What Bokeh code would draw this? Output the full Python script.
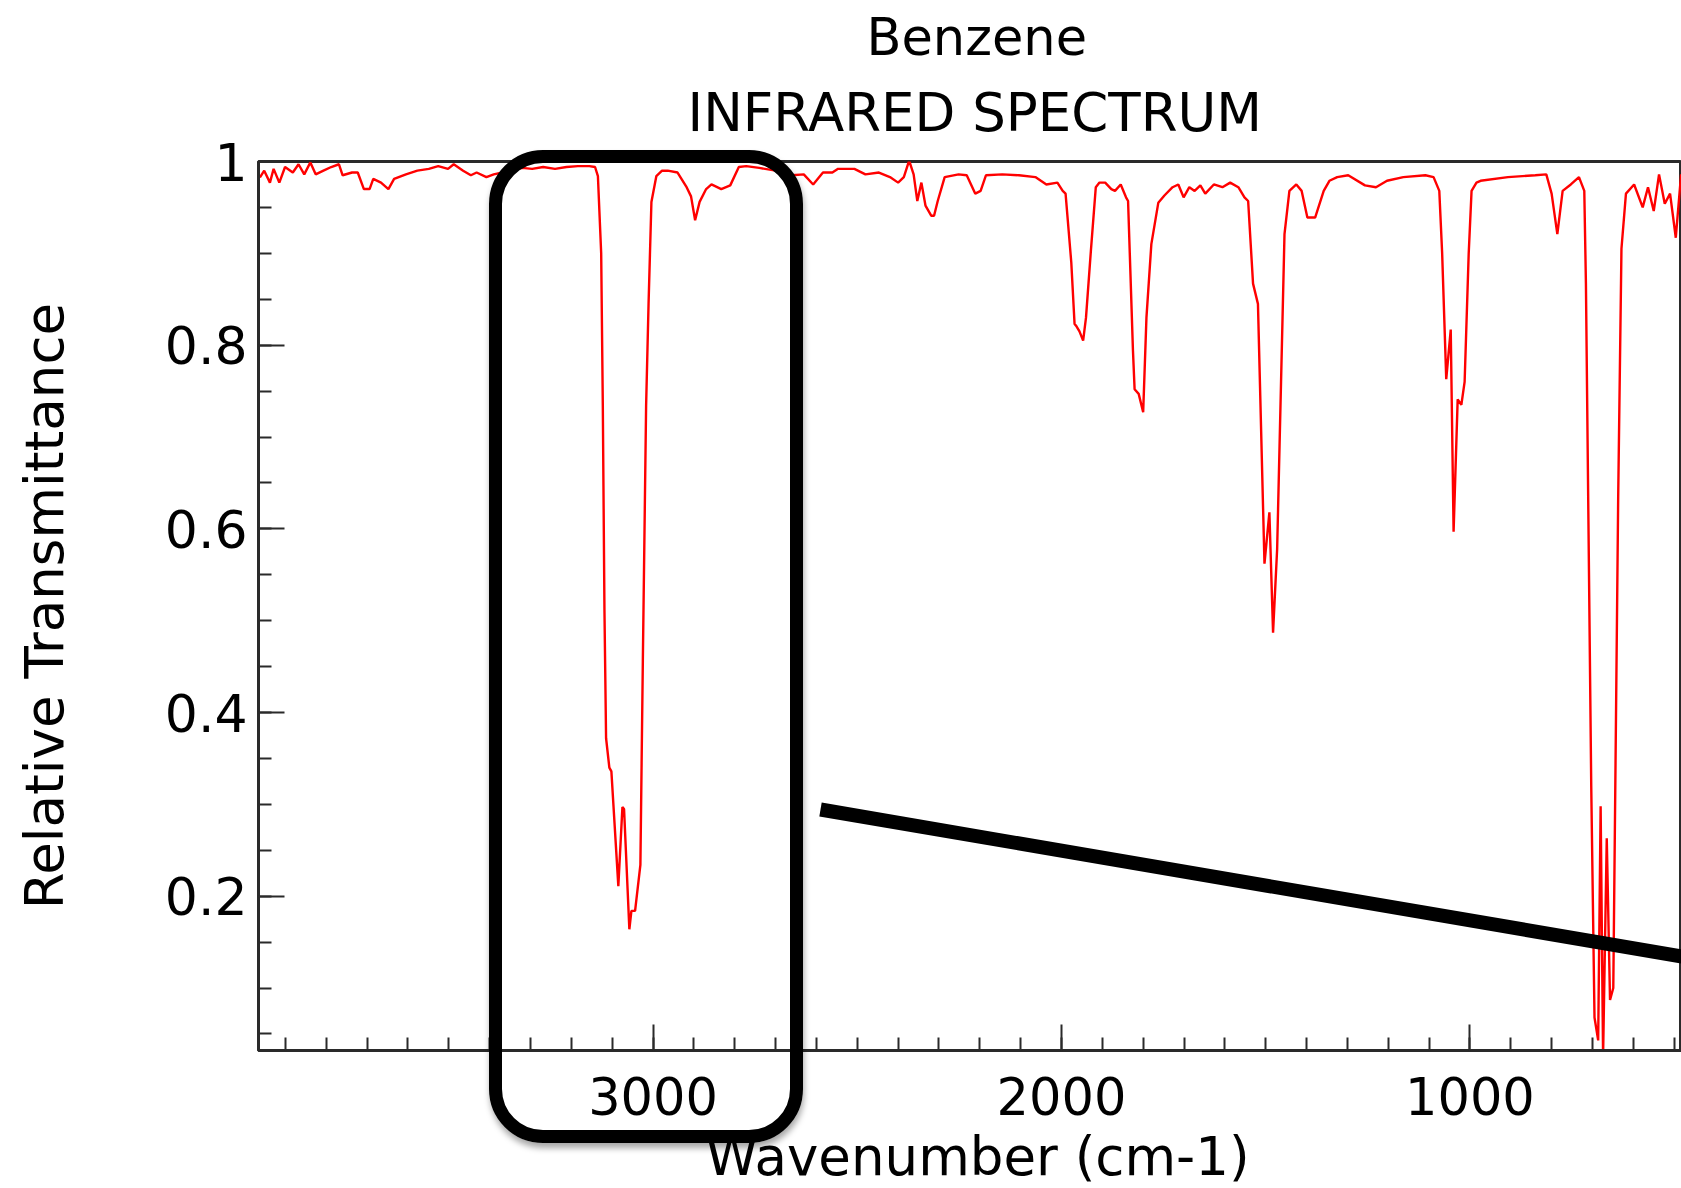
from bokeh.plotting import figure
from bokeh.models import (Range1d, SingleIntervalTicker, CustomJSTickFormatter,
                          Title, ColumnDataSource, Div)
from bokeh.layouts import column
from bokeh.embed import file_html
from bokeh.resources import INLINE

# ---- data (wavenumber in cm-1, relative transmittance)
wavenumber = [
    3966, 3962, 3952, 3938, 3929, 3915, 3901, 3882, 3868, 3854, 3839, 3826, 3807,
    3788, 3769, 3760, 3737, 3723, 3708, 3694, 3685, 3666, 3648, 3634, 3605, 3577,
    3549, 3526, 3502, 3488, 3465, 3446, 3432, 3408, 3390, 3350, 3320, 3296, 3269,
    3240, 3212, 3184, 3156, 3142, 3135, 3127, 3123, 3119, 3115, 3107, 3102, 3085,
    3075, 3071, 3058, 3053, 3044, 3031, 3025, 3017, 3011, 3004, 2992, 2978, 2964,
    2940, 2919, 2907, 2897, 2886, 2870, 2857, 2833, 2811, 2790, 2772, 2740, 2700,
    2660, 2631, 2608, 2584, 2561, 2547, 2507, 2480, 2447, 2420, 2400, 2386, 2373,
    2362, 2353, 2343, 2333, 2319, 2312, 2303, 2286, 2252, 2232, 2211, 2198, 2185,
    2145, 2104, 2064, 2037, 2010, 1997, 1990, 1976, 1968, 1964, 1956, 1947, 1940,
    1928, 1916, 1907, 1893, 1878, 1869, 1855, 1842, 1837, 1825, 1821, 1811, 1800,
    1792, 1780, 1763, 1748, 1728, 1714, 1701, 1687, 1674, 1660, 1648, 1627, 1606,
    1587, 1567, 1552, 1543, 1531, 1519, 1503, 1491, 1482, 1472, 1454, 1442, 1425,
    1412, 1398, 1379, 1358, 1344, 1325, 1298, 1257, 1230, 1203, 1163, 1109, 1089,
    1075, 1068, 1058, 1047, 1040, 1030, 1021, 1013, 1003, 996, 984, 974, 907, 840,
    813, 800, 786, 773, 753, 733, 720, 716, 703, 695, 686, 680, 674, 665, 657, 649,
    637, 629, 618, 598, 577, 564, 550, 537, 523, 510, 496, 483, 470,
]
transmittance = [
    0.985, 0.983, 0.990, 0.977, 0.992, 0.977, 0.994, 0.988, 0.997, 0.986, 0.999, 0.986, 0.990,
    0.994, 0.997, 0.985, 0.988, 0.988, 0.970, 0.970, 0.981, 0.977, 0.970, 0.981, 0.986, 0.990,
    0.992, 0.995, 0.992, 0.997, 0.990, 0.985, 0.988, 0.983, 0.986, 0.990, 0.993, 0.992, 0.994,
    0.992, 0.994, 0.995, 0.995, 0.994, 0.984, 0.900, 0.734, 0.512, 0.372, 0.340, 0.336, 0.211,
    0.297, 0.295, 0.164, 0.184, 0.184, 0.234, 0.456, 0.734, 0.845, 0.956, 0.984, 0.990, 0.990,
    0.988, 0.973, 0.962, 0.936, 0.956, 0.970, 0.975, 0.970, 0.974, 0.994, 0.995, 0.993, 0.990,
    0.985, 0.986, 0.975, 0.988, 0.988, 0.992, 0.992, 0.986, 0.988, 0.983, 0.977, 0.983, 1.001,
    0.986, 0.957, 0.977, 0.952, 0.941, 0.941, 0.957, 0.983, 0.986, 0.985, 0.965, 0.968, 0.985,
    0.986, 0.985, 0.983, 0.975, 0.977, 0.968, 0.965, 0.890, 0.823, 0.821, 0.815, 0.805, 0.830,
    0.903, 0.972, 0.977, 0.977, 0.970, 0.968, 0.975, 0.961, 0.957, 0.794, 0.752, 0.747, 0.727,
    0.830, 0.910, 0.955, 0.963, 0.972, 0.975, 0.961, 0.972, 0.968, 0.974, 0.965, 0.975, 0.972,
    0.977, 0.972, 0.961, 0.957, 0.867, 0.845, 0.562, 0.618, 0.487, 0.578, 0.921, 0.968, 0.975,
    0.968, 0.939, 0.939, 0.968, 0.979, 0.983, 0.985, 0.974, 0.972, 0.979, 0.983, 0.985, 0.983,
    0.968, 0.900, 0.763, 0.817, 0.597, 0.741, 0.735, 0.760, 0.900, 0.968, 0.977, 0.979, 0.983, 0.985,
    0.986, 0.965, 0.921, 0.968, 0.975, 0.983, 0.968, 0.867, 0.320, 0.068, 0.043, 0.298, 0.025, 0.263, 0.087, 0.100,
    0.635, 0.905, 0.965, 0.975, 0.950, 0.972, 0.946, 0.986, 0.954, 0.965, 0.917, 0.986, 0.950,
]

x_start, x_end = 3966, 482
y_start, y_end = 0.032, 1.0

# highlight annotations (a rounded box around the C-H stretch and a pointer line)
box_left, box_right, box_top, box_bottom = 3385, 2647, 1.005, -0.062
pointer_x = [2590, 400]
pointer_y = [0.2944, 0.1281]

FONT = "DejaVu Sans"
AX = "#2a2a2a"

W, H = 1681, 1188
BL, BT, BB = 258, 161, 138          # left / top / bottom borders around the frame

p = figure(width=W, height=H, output_backend="svg", toolbar_location=None,
           x_range=Range1d(x_start, x_end), y_range=Range1d(y_start, y_end),
           min_border_left=BL, min_border_right=0, min_border_top=BT,
           min_border_bottom=BB, background_fill_color="white",
           border_fill_color="white")

p.title.text = "Benzene"
p.title.text_font = FONT
p.title.text_font_size = "51px"
p.title.text_font_style = "normal"
p.title.text_color = "black"
p.title.align = "left"
p.title.offset = 608
try:
    p.title.standoff = -12
except Exception:
    p.title.standoff = 0

sub = Title(text="INFRARED SPECTRUM", text_font=FONT, text_font_size="53px",
            text_font_style="normal", text_color="black", align="left",
            offset=429, standoff=38)
p.add_layout(sub, "above")

src = ColumnDataSource(dict(x=wavenumber, y=transmittance))
p.line("x", "y", source=src, line_color="#ff0000", line_width=2.4)

p.line(pointer_x, pointer_y, line_color="black", line_width=14, line_cap="butt")

p.xgrid.visible = False
p.ygrid.visible = False
p.outline_line_color = AX
p.outline_line_width = 3

p.xaxis.ticker = SingleIntervalTicker(interval=1000, num_minor_ticks=10)
p.yaxis.ticker = SingleIntervalTicker(interval=0.2, num_minor_ticks=4)
p.yaxis.formatter = CustomJSTickFormatter(code="return tick > 0.99 ? '1' : tick.toFixed(1);")

for ax in (p.xaxis[0], p.yaxis[0]):
    ax.axis_line_color = AX
    ax.axis_line_width = 3
    ax.major_tick_line_color = AX
    ax.minor_tick_line_color = AX
    ax.major_tick_line_width = 2
    ax.minor_tick_line_width = 2
    ax.major_tick_in = 26
    ax.major_tick_out = 0
    ax.minor_tick_in = 13
    ax.minor_tick_out = 0
    ax.major_label_text_font = FONT
    ax.major_label_text_color = "black"
    ax.axis_label_text_font = FONT
    ax.axis_label_text_font_size = "53px"
    ax.axis_label_text_font_style = "normal"
    ax.axis_label_text_color = "black"

p.xaxis.major_label_text_font_size = "51px"
p.yaxis.major_label_text_font_size = "52px"
p.yaxis.axis_label = "Relative Transmittance"
p.xaxis.major_label_standoff = 26
p.yaxis.major_label_standoff = 11
p.yaxis.axis_label_standoff = 87

# x-axis title: an empty first line lets the label sit low without stealing frame height
xlabel = Title(text="\nWavenumber (cm-1)", text_font=FONT, text_font_size="53px",
               text_font_style="normal", text_color="black", align="left",
               offset=447, vertical_align="top")
try:
    xlabel.standoff = -106
except Exception:
    xlabel.standoff = 0
p.add_layout(xlabel, "below")

# rounded highlight box: drawn as an HTML overlay so it may run past the frame
frame_w = W - BL
frame_h = H - BT - BB
def sx(v):
    return BL + (x_start - v) / (x_start - x_end) * frame_w
def sy(v):
    return BT + (y_end - v) / (y_end - y_start) * frame_h
lw = 13
bx0, bx1 = sx(box_left) - lw / 2, sx(box_right) + lw / 2
by0, by1 = sy(box_top) - lw / 2, sy(box_bottom) + lw / 2
box_html = (
    '<div style="position:fixed; left:%.1fpx; top:%.1fpx; width:%.1fpx; height:%.1fpx; '
    'box-sizing:border-box; border:%dpx solid #000; border-radius:54px; '
    'box-shadow:1px 5px 6px rgba(0,0,0,0.35); pointer-events:none; z-index:10;"></div>'
    % (bx0, by0, bx1 - bx0, by1 - by0, lw)
)
overlay = Div(text=box_html, width=0, height=0, margin=0)

layout = column(p, overlay, spacing=0, margin=0)
open("out.html", "w").write(file_html(layout, INLINE))
